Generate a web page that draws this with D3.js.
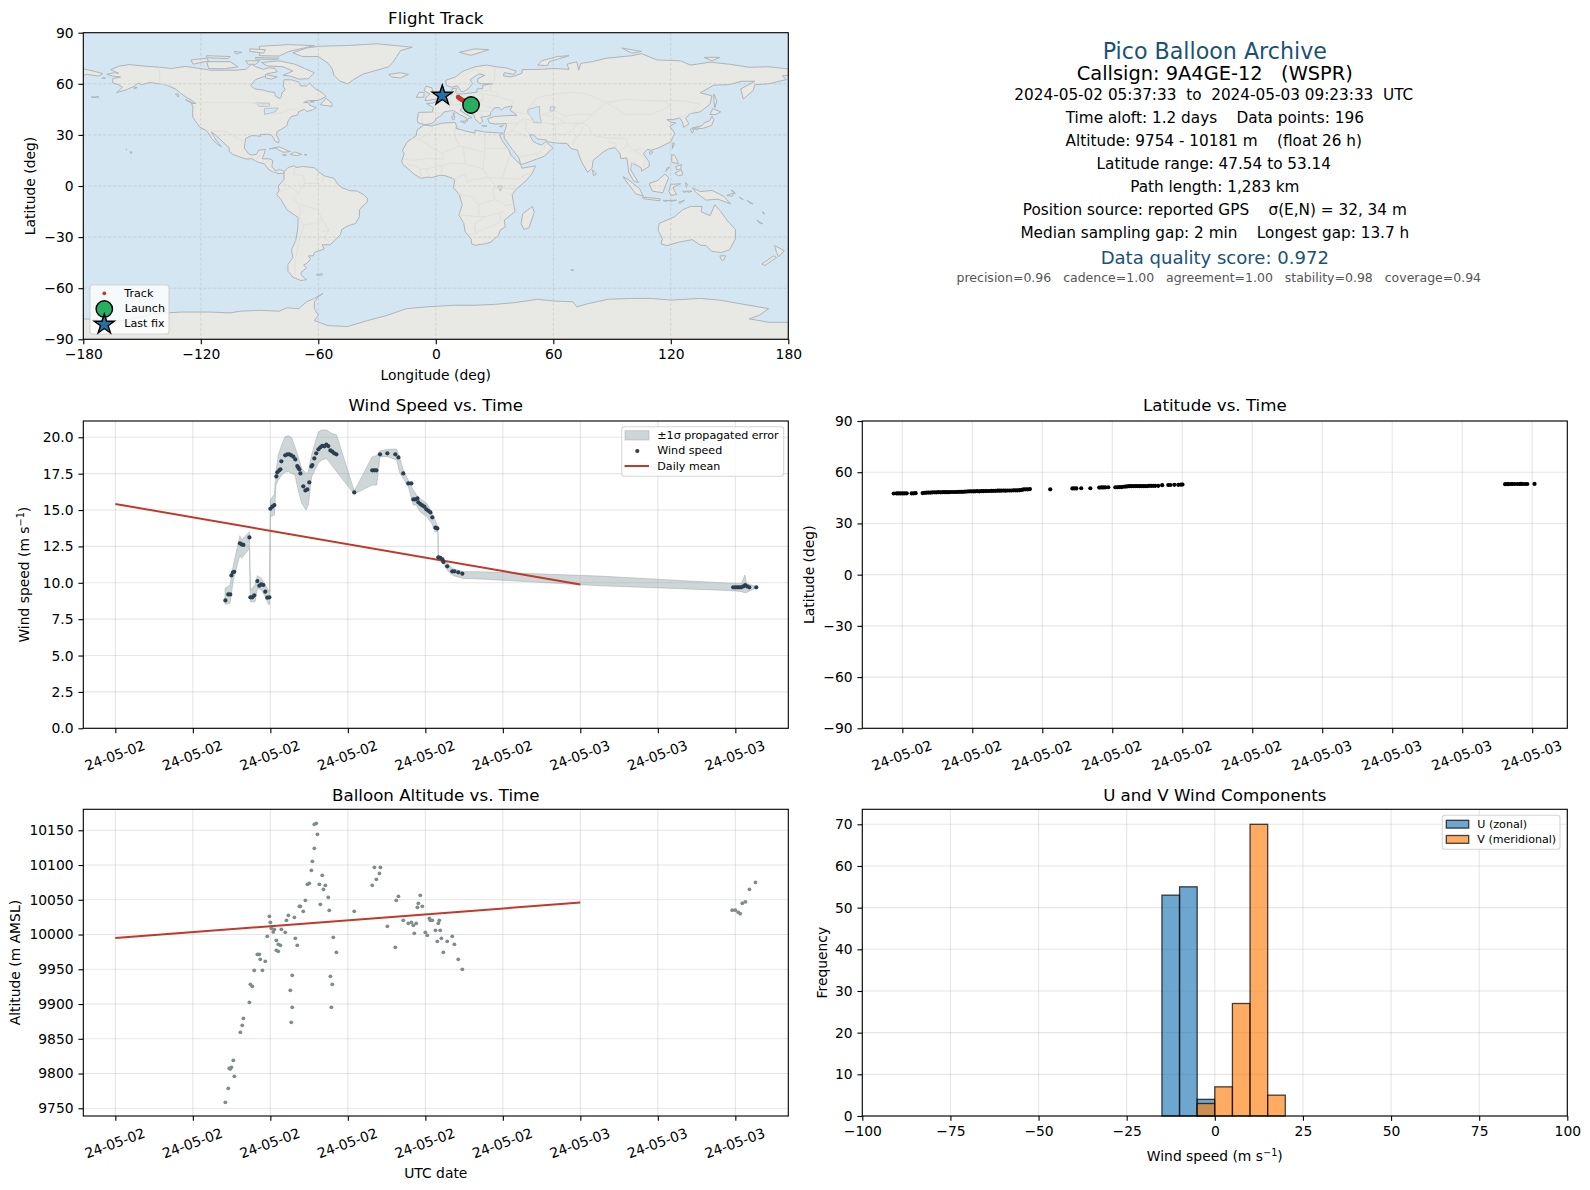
<!DOCTYPE html>
<html><head><meta charset="utf-8">
<script src="https://cdn.jsdelivr.net/npm/d3@7"></script>
<style>
html,body{margin:0;padding:0;background:#fff}
svg{display:block}
text{font-family:"DejaVu Sans",sans-serif;fill:#000;white-space:pre}
</style></head><body><div id="chart"></div>
<script>
// ---------- DATA ----------
const lonTicks=[-180,-120,-60,0,60,120,180];
const latTicks=[-90,-60,-30,0,30,60,90];
const landPolys=[
// North America
[[-168,65.6],[-164,66.5],[-162,66.2],[-166,68.3],[-162,70.3],[-156.5,71.3],[-150,70.5],[-141,69.7],[-135,69],[-128,70.2],[-124,69.6],[-115,68],[-108,68],[-102,68],[-97,68.5],[-94,71.5],[-92,70],[-88,68.5],[-85,69.5],[-82,69],[-81,67],[-86,66],[-87,64.5],[-92,62.5],[-94.5,59],[-92.5,57],[-88,56.3],[-85,55.3],[-82.3,55],[-82,52.9],[-79.5,51.3],[-79,52],[-78.5,54.8],[-76.8,56.5],[-78,58.7],[-77.5,62.4],[-73.5,62.3],[-70,61],[-69,58.8],[-66,58.7],[-64.5,60.3],[-61.5,57],[-58,54.8],[-56,52.5],[-60,50.2],[-65,50.2],[-67.5,49],[-65,49],[-64.5,47.5],[-61,46],[-63,44.6],[-66,43.7],[-67,45],[-70,43.7],[-70.5,41.8],[-74,40.6],[-75.5,38],[-76,35.5],[-78,33.9],[-81,32],[-81.4,30],[-80,27],[-80.3,25.3],[-81.8,26],[-82.8,28],[-84,30],[-86,30.4],[-89.5,30.2],[-89.5,29.2],[-91.5,29.5],[-94,29.6],[-97,28],[-97.5,25],[-97.8,22.3],[-95.5,18.8],[-94,18.2],[-91.5,18.6],[-90.5,21],[-87,21.5],[-87.8,18.3],[-88.7,16],[-85,15.9],[-83.2,15],[-83.7,11.5],[-82,9],[-79.5,9.6],[-77.3,8.5],[-78,7.3],[-80,7.3],[-81.7,7.8],[-83.5,8.4],[-85.7,10],[-87.5,13],[-91,14],[-94,16.1],[-96.5,15.7],[-100,17],[-103.5,18.5],[-105.5,20.3],[-105.5,22.5],[-108,25],[-110,27.3],[-112.5,30],[-114.7,31.7],[-113,28.5],[-112,26.5],[-110,24],[-109.5,23],[-112,25],[-114.5,28],[-115.5,30],[-117.2,32.6],[-120.5,34.5],[-122.5,37.7],[-124,40.3],[-124.2,43],[-124,46.3],[-124.7,48.4],[-122.5,48.5],[-125,50.5],[-128,52.5],[-130.3,54.5],[-133,57],[-137,59],[-140,59.8],[-146,60.8],[-150,59.5],[-152,60.5],[-154,58.5],[-158,56.5],[-163,54.8],[-160,58],[-162,59.5],[-165,60.5],[-165,63],[-161,64],[-165,64.5]],
// Greenland
[[-73,78.2],[-68,76],[-60,76],[-55,72],[-53,69],[-52,65],[-49,61.5],[-45,60],[-42,62.5],[-37,65.8],[-30,68],[-24,70],[-22,72.5],[-20,76],[-18,79.5],[-12,81.5],[-30,83.5],[-45,82.5],[-60,82],[-66,81]],
// Canadian Arctic
[[-80,73.5],[-72,71.5],[-67,69],[-62,66.5],[-65,63],[-70,62.7],[-74,64.5],[-78,65],[-73,67.5],[-78,70],[-86,70.5],[-89,72.5]],
[[-117,73],[-105,73],[-101,70],[-108,68.8],[-116,69]],
[[-125,74],[-117,75],[-116,73.5],[-124,71.5]],
[[-90,76.5],[-80,76.3],[-75,79],[-62,82.4],[-75,83],[-90,82]],
[[-92,75.5],[-80,75],[-82,74.3],[-92,74.5]],
[[-117,76.5],[-105,76],[-106,74.8],[-117,75.3]],
[[-97,73.5],[-90,73.5],[-92,71.5],[-96,71.5]],
[[-95,80.5],[-87,80],[-88,78],[-95,79]],
[[-103,79],[-99,78.5],[-102,77.5]],
[[-87,65.5],[-81,64],[-84,62.7],[-87,63.5]],
[[-59,47.7],[-53,46.7],[-53,48.5],[-56,51.5]],
[[-128,50.8],[-123.5,48.4],[-125,48.7]],
[[-133,54],[-131.5,54],[-131.5,52.2]],
[[-64,49.8],[-62,49.4],[-64,49.2]],
// Caribbean and Pacific islands
[[-85,21.8],[-80,23],[-75,20.5],[-74.2,20.2],[-78,19.8],[-82,22.3]],
[[-74.4,18.5],[-72,20],[-68.5,18.6],[-71,17.8]],
[[-78.3,18.4],[-76.3,18.2],[-77,17.8]],
[[-67.2,18.5],[-65.7,18.4],[-66.5,18]],
[[-156,20.2],[-155,19.7],[-155.8,19]],
[[-158.2,21.6],[-157.7,21.5],[-158,21.3]],
[[-176,52.2],[-172,52.4],[-174,51.9]],
[[-154,57.8],[-152.5,57.8],[-154,57]],
[[-170,63.6],[-168.5,63.3],[-170.5,63.2]],
// South America
[[-77.3,8.5],[-75.5,10.8],[-72,12],[-71.5,10.8],[-68,11.5],[-62,10.7],[-60,8.5],[-57,6],[-52,4.5],[-50,1],[-48,-1],[-44,-2.7],[-40,-3],[-37,-5],[-35,-7],[-35,-9.5],[-37.5,-12],[-39,-14],[-39,-18],[-41,-22],[-44.5,-23.2],[-48,-25.5],[-48.7,-28.5],[-52,-32.5],[-54,-34.5],[-58,-34.5],[-57,-37],[-62,-39],[-62.5,-41],[-65,-41],[-64,-43],[-65.5,-45],[-67.5,-46.5],[-66,-48],[-69,-51],[-68.5,-52.5],[-66,-55],[-69,-55.5],[-73,-53.5],[-75.5,-50],[-75.5,-46],[-73,-42],[-73.7,-37.5],[-71.5,-32],[-70.5,-25],[-70.3,-18.5],[-76,-14],[-79,-8],[-81.3,-5],[-80,-2.5],[-80.5,0],[-78.5,2.5],[-77.5,4],[-77.5,7]],
[[-61,-52],[-58,-51.5],[-58,-52.3],[-60,-52.5]],
// Africa
[[-6,35.8],[-2,35.2],[3,36.9],[10,37.3],[11,33.5],[10,34],[15,32.3],[20,31],[20,32.8],[25,31.7],[32,31.2],[34.3,31],[32.5,29.9],[34,26.5],[35.5,24],[37.3,21],[38.5,18],[41,15],[43.3,12.5],[44,10.5],[51,11.8],[49,7],[46,3],[41,-2],[39,-5],[39.5,-9],[40.5,-15],[35,-20],[35.5,-24],[32.8,-26],[32,-29],[28,-33],[25,-34],[20,-34.8],[18.3,-34],[18,-31],[15,-27],[14.3,-22],[11.8,-17],[13.5,-11],[12,-5],[9,-1],[9.7,3.5],[8.5,4.5],[5,6],[2,6.3],[-2,5],[-4.5,5.2],[-7.5,4.5],[-11,6.8],[-13.5,9.5],[-16.8,12.5],[-17.4,14.7],[-16.2,19],[-17,21],[-14.5,26],[-10,29.5],[-9.5,33]],
[[49.3,-12],[50.3,-15.5],[47.5,-24.7],[45,-25.5],[43.5,-22],[44.5,-16.2]],
// Eurasia
[[-9,37],[-9.5,38.7],[-8.8,43.2],[-1.8,43.4],[-1.2,46],[-4.7,48.4],[-1.5,48.7],[1.5,50.5],[4,52],[7,53.5],[8.5,54],[8.2,57],[10.5,57.5],[10.2,55],[11,54],[14,54],[18.5,54.7],[21,55],[21,57],[24,57.2],[24,59.2],[29,60],[23,60],[21.3,61],[21.5,63],[25,65],[22,65.8],[17.5,62.5],[18.8,60],[16.5,57],[14.3,55.5],[13,55.4],[11,58.8],[8,58],[5.5,59],[5,62],[10,64],[14,67.5],[20,70],[26,71],[31,70],[36,69.3],[41,67.5],[40,65.5],[35,66.5],[34.5,64.7],[38,64],[40.5,64.7],[44,66.2],[44,68.3],[54,68.5],[60,69],[68,68.5],[67,71.5],[72,73],[73,68],[74,72],[80,73],[87,75],[100,76.5],[105,77.7],[113,74],[125,73.5],[130,71],[140,72.7],[150,71.5],[160,69.7],[170,70],[178,69],[180,68.7],[180,65],[177,64.7],[179,62.5],[170,60],[163,59.5],[162,56],[157,51],[155.7,57],[163,61.5],[156,61.5],[150,59.5],[142,59.2],[135,54.7],[141,53],[140,48],[135,43.5],[130,42.5],[127.5,39.8],[129.3,36.5],[126.5,34.5],[126,37.5],[124.5,40],[121.5,39],[118,39],[120,37.5],[122.5,37],[119.5,35],[122,31],[120,26],[114,22.5],[110,21],[108,21.5],[106,19],[109,14],[109,11.5],[105,8.7],[105,10.5],[102,12.5],[100,13.5],[99.5,9.5],[103.5,2],[101,3],[98.5,8],[98,13],[97.5,16.5],[94.5,16],[94,19],[91.5,22.5],[88,21.7],[85,19.5],[80.3,15],[79.8,10.5],[77.5,8],[74.5,14],[72.8,19],[72.5,21],[69,22],[67,25],[61.5,25.2],[57,26],[56.5,27],[52,27.5],[50,30],[48,30],[48.5,28.5],[50,26],[51.5,25],[54,24],[56.2,26],[58.7,23.5],[59.8,22.5],[55.5,17.5],[52,16],[45,13],[43.3,12.7],[42.5,16.5],[39,21.5],[35,28],[34.8,31],[36,35],[36,36.7],[30.5,36.4],[27.3,37],[26.5,39.5],[30,40.8],[36,41.3],[41.5,41.5],[38,44.5],[39,47],[35,46],[33.5,44.5],[32.5,46],[30,46],[28,43],[28,41.5],[26,40.8],[23,40.5],[24,38],[22.5,36.5],[20,39.5],[19.5,41.5],[15,44.5],[13.5,45.7],[12.3,44.5],[16,41.7],[18.5,40.2],[16.5,39.5],[16,38],[15.7,40],[12,42],[8.8,44.4],[4,43.4],[3,41.5],[0,39.5],[-0.5,38],[-2,36.7],[-5.5,36]],
[[-180,68.8],[-175,67.5],[-170,66],[-172,64.5],[-178,65.5],[-180,65]],
// European and Asian islands
[[-5.5,50],[1.5,51.3],[1.7,52.8],[-1.5,55],[-2,57.6],[-5,58.6],[-6,56],[-3,54],[-5,52]],
[[-10,52],[-6,52.2],[-6,55],[-8.5,55]],
[[-24,65.5],[-18,66.5],[-14,65.5],[-18,63.5],[-22.5,64]],
[[12,78.5],[20,80.5],[27,80],[18,76.7]],
[[52,71],[57,70.7],[58,73],[68,76.5],[62,76],[54,73.5]],
[[95,81],[105,79],[100,78]],
[[137,75.5],[145,75.5],[141,73.5]],
[[12.5,38],[15.5,38.2],[15,36.8]],
[[8.2,41],[9.7,41],[9.5,39.2],[8.5,39]],
[[8.7,43],[9.5,42.8],[9.2,41.5]],
[[23.5,35.5],[26.2,35.2],[24.8,35]],
[[32.5,35],[34.5,35.5],[33.5,34.7]],
[[80,9.5],[82,7],[80.5,6]],
[[130.9,34],[136,35.5],[137,37],[140,38.5],[141,41],[142,39],[140.8,35.5],[136,33.7],[132,34]],
[[130,33.5],[132,33.5],[131,31]],
[[132.5,34],[134.5,34],[133,32.8]],
[[140,42],[141.5,45.5],[145.5,43.5],[143,42]],
[[142,54],[143.5,50],[142.5,46],[142,50]],
[[121,25.3],[122,25],[120.8,22]],
[[109,20],[111,20],[109.5,18.3]],
[[120.5,18.5],[122,18],[124,13],[120.5,14]],
[[122,7.5],[125.5,9.5],[126,6.5],[124,6]],
[[118,10.5],[119.5,11.3],[117.5,8.5]],
[[122.5,11.5],[125.5,12.5],[125,10],[123,9.5]],
[[109,1.5],[113,3],[117,7],[119,5],[117.5,1],[116,-4],[110.5,-3]],
[[95.5,5.5],[98,4],[104,-1.5],[106,-6],[102,-4.5]],
[[105.5,-6.5],[114.5,-7.5],[114.5,-8.7],[106,-7.5]],
[[120,1],[125,1.3],[121,-1],[123,-5],[120,-5.5],[119,-3]],
[[127.5,2],[128.5,1],[128,-0.8]],
[[126,-3],[128,-3.2],[127,-3.8]],
[[128,-3],[130.8,-3],[129,-3.7]],
[[116,-8.4],[119,-8.5],[117,-9]],
[[119,-8.5],[123,-8.3],[120,-9]],
[[124,-9.5],[127,-8.4],[124.5,-10.3]],
[[131,-1],[135,-3.3],[141,-2.6],[147,-6],[150.5,-10.5],[144,-7.7],[138,-8.3],[133,-4]],
[[148.5,-5.5],[152,-4.2],[151.5,-6]],
[[152,-3],[153,-4.6],[150.8,-2.5]],
[[155,-6.5],[157,-8],[155.5,-7.2]],
[[159,-8.5],[162,-10.5],[160,-9.8]],
// Oceania
[[114,-22],[122,-18],[126,-14],[130,-12],[136,-12],[135.5,-15],[140,-17.5],[142.5,-11],[145.5,-15],[149,-20.5],[153,-25.5],[153,-31],[150,-37.5],[146,-39],[141,-38.5],[138,-35],[135,-34.7],[131,-31.5],[124,-33],[118,-35],[115,-34],[115.7,-31],[113.5,-26]],
[[145,-41],[148,-41],[147,-43.5],[146,-43.5]],
[[173,-35],[178,-38],[175,-41.5],[174,-39]],
[[172.5,-41],[174,-42],[168,-46.7],[166.5,-45.8]],
[[164,-20],[167,-22.3],[165,-21.5]],
[[167,-15],[168,-16.5],[167,-16]],
[[69,-49],[70.5,-49.3],[69.5,-49.8]],
// Antarctica
[[-180,-78],[-160,-79],[-150,-77],[-145,-75],[-130,-74],[-115,-74],[-105,-74.5],[-100,-73.5],[-90,-73],[-80,-73.5],[-76,-71.5],[-70,-72],[-66,-68],[-62,-66],[-57.5,-63],[-60,-65],[-62,-68],[-62,-72],[-60,-76],[-62,-79],[-55,-82],[-45,-82.5],[-35,-79],[-25,-76],[-15,-72],[-5,-71],[10,-70],[20,-70],[30,-69.5],[40,-68.5],[52,-66.5],[60,-67.5],[70,-68],[72,-71],[78,-69],[88,-66.5],[100,-66],[110,-66],[120,-67],[135,-66],[145,-67],[155,-69],[165,-71],[170,-72],[165,-76],[160,-78],[170,-80],[180,-80],[180,-90],[-180,-90]]
];
const lakes=[
[[47,45],[53,46.8],[53,42],[54,37],[50,37.3],[49,40],[47,43]],
[[58.5,46.5],[61,46.5],[60,44],[58.5,44]],
[[31.5,0],[34,0],[33,-3]],
[[-92,48.8],[-85,48.6],[-85,46.8],[-90,46.7]],
[[-87.5,45.5],[-80.5,45.8],[-82,43.5],[-87.5,42]]
];
const borders=[
[[-123,49],[-95,49],[-89,48],[-83,46],[-83,42],[-79,43],[-75,45],[-71,45],[-69,47],[-67,45]],
[[-141,69.7],[-141,60],[-135,59]],
[[-117,32.5],[-106.5,31.7],[-103,29],[-97.5,26]],
[[-92,14.5],[-91,17.5],[-89,17.8]],[[-88.5,15.8],[-87.5,13.5]],[[-85,15],[-87,13]],[[-83.7,11],[-85.7,11]],[[-83,9.5],[-82.8,8.3]],
[[-72,12],[-72.5,7],[-67.5,6],[-67,1.5],[-70,-4]],[[-70,-4],[-73,-7],[-70,-11],[-69,-15],[-70,-18]],
[[-60,8.5],[-61,5],[-60,1.5],[-67,1.5]],[[-78.5,1.5],[-75,0],[-70,-4]],[[-80,-3.5],[-75,-1]],[[-57,6],[-58,2]],[[-54,5],[-54,2.3]],
[[-70,-18],[-67.5,-23],[-70,-33],[-72,-45],[-72,-52]],[[-69,-11],[-60,-14],[-58,-20],[-54.5,-25.5],[-57,-30],[-53.5,-34]],[[-67.5,-23],[-62.5,-22],[-58,-20]],[[-58,-27],[-54.5,-25.5]],
[[-8.5,27.7],[-2,32],[-1.5,35]],[[-8.5,27.7],[-13,27.7]],[[-8.5,27.7],[3,19],[12,23.5],[9.5,30],[10,34]],[[12,23.5],[25,20],[25,31.7]],[[25,22],[37,22]],[[25,20],[24,10],[27,5],[34,4.5],[42,4],[48,8]],[[34,4.5],[36,12],[38,18]],[[24,10],[15,13],[14,23]],[[15,13],[8,13.5],[3,12],[3,6.3]],[[3,12],[-5,10],[-8,10],[-11,12],[-16.8,12.5]],[[-5,10],[-3,5]],[[-8,10],[-7.5,4.5]],[[3,19],[4,16],[-5,16],[-12,15],[-16.5,16]],
[[9.5,4],[15,7],[16,2],[18,3.5],[27,5]],[[12,-5],[18,-6],[22,-11],[30,-8],[29,-3],[30,1],[27,5]],[[12,-17],[22,-18],[25,-18],[35,-15]],[[22,-11],[22,-18]],[[40.5,-10.5],[35,-11.5],[33,-9],[30,-8]],[[34,-1],[41,-2]],[[30,-1],[34,-1]],[[20,-28],[20,-22],[25,-18]],[[17,-28.5],[20,-28],[25,-25],[32,-22]],[[32,-22],[33,-19],[33,-16]],
[[-1.8,43.4],[3,42.5]],[[-7,37],[-7,42]],[[2.5,51],[8,49],[7,47.5],[7.5,44]],[[7,53.5],[6,51],[8,49]],[[14,54],[15,51],[24,50.5],[24,54],[21,55]],[[15,51],[12,50],[13,47.5],[7,47.5]],[[24,50.5],[22,48.5],[17,48],[13,47.5]],[[22,48.5],[29,45.5]],[[22,48.5],[22,44],[23,41.5]],[[13.5,45.7],[19,45],[22,44],[28.5,43.7]],[[24,54],[32,52.5],[40,49.5],[38,47]],[[28,56],[28,60]],[[21,56.3],[28,56]],[[32,52.5],[31,55],[28,56]],
[[30,70],[30,62],[28,60]],[[20,69],[24,66]],[[13,64],[20,69]],
[[40,43.5],[48,42],[49,38.5]],[[36,36.7],[42,37],[44.5,39.5],[49,38.5]],[[42,37],[39,32.5],[34.8,29.5]],[[39,32.5],[47,29]],[[46,39],[46,33],[48,30]],[[52,16],[52,19],[55,22],[56,24.5]],[[43,17],[52,19]],
[[49,38.5],[54,37.5],[61,36],[61,31],[61.5,25.2]],[[61,36],[66,37],[71,37],[75,37]],[[61,31],[66,30],[70,33],[71,36]],[[71,36],[75,37],[78,35],[80,30],[88,28],[92,28],[97,28]],[[75,37],[80,42],[87,49],[97,42],[110,42],[120,47],[116,50],[127,50],[135,48],[131,43]],[[87,49],[98,51],[107,50],[116,50]],[[47,45],[52,52],[61,54],[70,55],[77,54],[83,51],[87,49]],[[54,42],[61,44],[66,41],[71,42],[80,42]],[[66,37],[62,40],[54,42]],[[70,24],[71,28],[74,31],[75,35]],[[88,26],[92,25],[92,21]],[[97,28],[98,24],[101,21],[105,22],[107,21.5]],[[98,24],[94,21]],[[101,21],[105,18],[107,15],[106,11]],[[99,10],[100,13],[102.5,14.5]],[[124.5,40],[128,42],[131,43]]
];
const trackLon=[18.0,17.4,16.8,16.2,15.6,15.0,14.4,13.8,13.2,12.6,12.0,11.4];
const trackLat=[47.54,47.9,48.3,48.7,49.1,49.5,49.9,50.3,50.7,51.1,51.6,52.2];
const launchPoint=[18.0,47.54];
const lastFix=[3.3,53.14];

const tickStartIso="2024-05-02T00:00:00Z";
const windHours=[5.68,5.83,5.93,5.99,6.07,6.14,6.43,6.52,6.61,6.92,6.97,7.07,7.17,7.33,7.43,7.53,7.64,7.74,7.84,7.95,8.00,8.10,8.21,8.31,8.36,8.46,8.52,8.57,8.77,8.88,8.98,9.08,9.19,9.29,9.39,9.44,9.50,9.55,9.70,9.81,9.91,10.01,10.12,10.17,10.27,10.37,10.48,10.58,10.68,10.79,10.89,10.99,11.10,11.20,11.30,11.41,12.33,13.26,13.37,13.47,13.66,14.04,14.45,14.61,14.86,15.12,15.28,15.38,15.48,15.59,15.64,15.74,15.84,15.95,16.05,16.15,16.26,16.36,16.52,16.62,16.67,16.77,16.88,16.93,17.13,17.39,17.50,17.70,17.91,31.89,32.00,32.10,32.20,32.30,32.41,32.51,32.61,32.72,33.08];
const windSpeed=[8.79,9.20,9.20,10.51,10.72,10.76,12.71,12.64,12.60,13.12,9.00,9.00,9.14,10.12,9.80,9.89,9.85,9.39,8.98,9.00,15.09,15.23,15.34,17.31,17.59,17.73,17.80,18.35,18.76,18.83,18.83,18.76,18.67,18.48,18.02,17.91,17.80,17.52,16.63,16.35,16.42,16.90,18.00,18.09,18.55,18.90,19.17,19.31,19.42,19.38,19.49,19.40,19.10,19.01,18.90,18.83,16.21,17.73,17.73,17.73,18.83,18.90,18.83,18.62,17.52,16.83,16.83,15.73,15.73,15.80,15.53,15.41,15.32,15.23,15.05,14.95,14.84,14.50,13.79,13.74,11.75,11.72,11.61,11.43,11.13,10.79,10.79,10.72,10.63,9.69,9.69,9.69,9.69,9.69,9.75,9.85,9.75,9.69,9.69];
const bandHours=[5.66,5.92,6.09,6.43,6.52,6.92,6.97,7.21,7.33,7.55,7.74,7.90,7.96,8.00,8.21,8.29,8.41,8.58,8.76,8.93,9.10,9.27,9.44,9.62,9.84,9.96,10.13,10.30,10.48,10.65,10.91,11.16,11.42,12.33,13.26,13.49,13.66,14.04,14.52,14.69,14.86,15.12,15.38,15.55,15.72,16.07,16.33,16.50,16.65,16.67,16.93,17.19,17.45,17.96,18.82,25.01,31.89,32.32,32.49,32.58,33.08];
const bandHigh=[9.62,9.85,11.22,13.24,12.94,13.51,9.50,9.85,10.49,10.30,9.85,9.50,9.39,15.69,16.08,17.64,18.78,19.47,20.04,20.11,19.97,19.35,18.67,17.86,17.52,17.64,18.78,19.58,20.38,20.50,20.50,20.27,20.16,16.31,18.67,18.74,19.06,19.17,19.19,18.55,17.75,17.06,16.38,16.03,15.80,15.46,14.89,14.31,13.86,11.91,11.68,11.27,10.95,10.76,10.76,10.46,9.96,9.96,10.53,9.96,9.73];
const bandLow=[8.52,8.59,10.19,11.91,11.68,12.37,8.70,8.70,9.62,9.50,9.04,8.52,8.52,14.54,14.66,16.72,17.06,17.41,17.59,17.64,17.52,17.41,16.38,15.46,15.00,15.34,17.29,17.75,18.21,18.44,18.55,18.09,17.64,16.10,16.72,16.72,18.67,18.67,18.44,17.52,17.18,16.60,15.34,15.34,14.89,14.54,14.08,13.51,13.51,11.56,11.34,10.76,10.49,10.30,10.26,9.80,9.46,9.39,9.32,9.34,9.64];
const meanHours=[0,24];
const meanWind=[15.42,9.88];
const meanAlt=[9995,10046];

const latHours=[5.63,5.76,5.84,5.93,6.02,6.10,6.19,6.40,6.49,6.57,6.87,6.96,7.04,7.13,7.22,7.30,7.39,7.48,7.56,7.65,7.74,7.82,7.91,8.00,8.08,8.17,8.26,8.34,8.43,8.52,8.60,8.69,8.78,8.86,8.95,9.04,9.12,9.21,9.30,9.38,9.47,9.56,9.64,9.73,9.82,9.90,9.99,10.08,10.16,10.25,10.34,10.42,10.51,10.60,10.68,10.77,10.86,10.94,11.03,11.12,11.20,11.29,11.38,11.47,12.34,13.29,13.37,13.46,13.67,14.06,14.44,14.53,14.61,14.70,14.83,15.13,15.21,15.30,15.39,15.47,15.56,15.64,15.73,15.81,15.90,15.99,16.07,16.16,16.24,16.33,16.41,16.50,16.58,16.67,16.76,16.84,16.97,17.14,17.40,17.49,17.66,17.83,17.95,18.01,31.84,31.93,32.00,32.10,32.15,32.25,32.36,32.45,32.52,32.60,32.70,32.79,33.10];
const latValues=[47.54,47.6,47.6,47.6,47.6,47.6,47.65,47.6,47.65,47.7,47.8,47.9,48.0,48.1,48.1,48.2,48.2,48.2,48.3,48.2,48.3,48.3,48.3,48.3,48.4,48.4,48.4,48.4,48.5,48.5,48.5,48.6,48.7,48.8,48.8,48.8,48.8,48.9,48.8,48.9,48.9,49.0,49.0,49.0,49.1,49.1,49.1,49.2,49.2,49.2,49.3,49.2,49.3,49.3,49.3,49.4,49.4,49.4,49.5,49.6,49.9,50.0,50.0,50.1,50.0,50.5,50.5,50.5,50.6,50.6,51.0,51.1,51.1,51.1,51.2,51.2,51.2,51.3,51.3,51.5,51.6,51.7,51.8,51.8,51.9,51.9,51.9,51.9,51.9,51.9,51.9,51.9,52.0,52.0,52.0,52.0,52.0,52.4,52.5,52.5,52.6,52.6,52.7,52.8,53.0,53.05,53.05,53.1,53.1,53.1,53.1,53.1,53.14,53.1,53.1,53.1,53.14];

const altHours=[5.68,5.83,6.14,5.88,5.93,5.99,6.09,6.45,6.55,6.61,6.92,6.97,7.07,7.17,7.59,7.33,7.43,7.48,7.74,7.84,7.95,8.00,8.05,8.15,8.21,8.31,8.31,8.41,8.41,8.52,8.57,8.77,8.83,8.93,9.24,9.29,9.39,9.13,9.03,9.13,9.08,9.50,9.55,9.70,9.81,9.91,10.01,10.12,10.17,10.27,10.43,10.27,10.37,10.53,10.68,10.84,10.74,10.99,10.58,11.04,11.25,11.41,11.10,11.20,11.15,12.33,13.26,13.47,13.63,13.37,13.68,14.04,14.45,14.50,14.61,14.86,15.12,15.28,15.38,15.53,15.43,15.59,15.64,15.74,15.84,16.00,16.10,16.21,16.26,16.36,16.52,16.62,16.67,16.72,16.77,16.83,16.93,17.13,17.39,17.50,17.70,17.91,31.84,32.00,32.15,32.25,32.36,32.52,32.73,33.04];
const altValues=[9758.6,9778.7,9796,9807.5,9806.6,9809,9819,9859.3,9869.4,9879.5,9902.5,9928.4,9925.5,9948.5,9948.5,9971.5,9971.5,9964.4,9961.5,9997.4,10026.2,10017.6,10009,10003.7,10007.5,9991.7,9977.3,9975.9,9985.9,9984.5,10007.5,10003.2,10020.5,10027.7,10024.8,9994.6,9984.5,9941.3,9919.7,9895.3,9873.7,10040.6,10040.6,10033.4,10049.2,10072.3,10073.7,10092.4,10105.4,10124,10144.2,10158.6,10160,10072.3,10085.2,10070.8,10065.1,10053.6,10043.5,10034.8,9996,9974.4,9939.9,9928.4,9895.3,10033.4,10070.8,10079.5,10088,10096.7,10096.7,10011.8,9981.6,10049.2,10055,10020.5,10016.1,10017.6,10013.3,10016.1,10001.8,10039.2,10044.9,10056.4,10040.6,10003.2,9998.9,10023.3,10020.5,10020.5,10006.1,9990.2,10016.1,10020.5,10006.1,9994.6,9974.4,9990.2,9997.4,9985.9,9964.4,9950,10035,10035,10032,10030,10045,10047,10065,10075];

const histBinStartU=[-15,-10,-5];
const histCountU=[53,55,4];
const histBinStartV=[-5,0,5,10,15];
const histCountV=[3,7,27,70,5];
const histBinWidth=5;

const altTicks=[9750,9800,9850,9900,9950,10000,10050,10100,10150];
const windTicks=[0,2.5,5,7.5,10,12.5,15,17.5,20];
const histYTicks=[0,10,20,30,40,50,60,70];
const histXTicks=[-100,-75,-50,-25,0,25,50,75,100];

const infoLines=[
 {t:"Pico Balloon Archive",y:50.8,s:22.2,c:"#1a5276",dx:0},
 {t:"Callsign: 9A4GE-12   (WSPR)",y:73.2,s:19.4,c:"#000",dx:0},
 {t:"2024-05-02 05:37:33  to  2024-05-03 09:23:33  UTC",y:94.5,s:15.28,c:"#000",dx:-1},
 {t:"Time aloft: 1.2 days    Data points: 196",y:117.5,s:15.28,c:"#000",dx:0},
 {t:"Altitude: 9754 - 10181 m    (float 26 h)",y:140.5,s:15.28,c:"#000",dx:-1},
 {t:"Latitude range: 47.54 to 53.14",y:163.5,s:15.28,c:"#000",dx:-1},
 {t:"Path length: 1,283 km",y:186.5,s:15.28,c:"#000",dx:0},
 {t:"Position source: reported GPS    σ(E,N) = 32, 34 m",y:209.5,s:15.28,c:"#000",dx:0},
 {t:"Median sampling gap: 2 min    Longest gap: 13.7 h",y:232.5,s:15.28,c:"#000",dx:0},
 {t:"Data quality score: 0.972",y:257,s:18.06,c:"#1a5276",dx:0},
 {t:"precision=0.96   cadence=1.00   agreement=1.00   stability=0.98   coverage=0.94",y:277.5,s:12.5,c:"#555",dx:4}
];

// ---------- LAYOUT ----------
const W=1590,H=1190;
const L1=83.3,R1=788.3,L2=862.3,R2=1567.3;
const rows=[[32.7,339.3],[421,728.3],[809.3,1116]];
const FS=13.89, TITLE=16.67, LEG=11.1;
const OCEAN="#d4e6f1",LAND="#e8e8e4",RED="#c0392b",DARK="#2c3e50",GREY="#7f8c8d",BAND="#95a5a6";

const svg=d3.select("#chart").append("svg").attr("width",W).attr("height",H).attr("viewBox",`0 0 ${W} ${H}`);
const defs=svg.append("defs");
defs.append("filter").attr("id","soft").attr("x","-1%").attr("y","-1%").attr("width","102%").attr("height","102%")
   .append("feGaussianBlur").attr("stdDeviation",0.4);
const toDate=h=>new Date(Date.parse(tickStartIso)+h*3600e3);
const fmtDate=d3.utcFormat("%y-%m-%d");
const fmtNum=d3.format("d");
const minus=s=>String(s).replace("-","−");

function panel(L,R,T,B,id){
  const g=svg.append("g");
  defs.append("clipPath").attr("id",id).append("rect").attr("x",L).attr("y",T).attr("width",R-L).attr("height",B-T);
  return g;
}
function grid(g,xs,ys,x,y,T,B,L,R,dash){
  const gg=g.append("g").attr("stroke","#b0b0b0").attr("stroke-opacity",dash?0.5:0.32).attr("stroke-width",dash?0.8:1.1).attr("stroke-dasharray",dash?"3,2":null);
  gg.selectAll("line.v").data(xs).join("line").attr("x1",d=>x(d)).attr("x2",d=>x(d)).attr("y1",T).attr("y2",B);
  gg.selectAll("line.h").data(ys).join("line").attr("y1",d=>y(d)).attr("y2",d=>y(d)).attr("x1",L).attr("x2",R);
}
function axes(g,x,y,xs,ys,T,B,L,R,xfmt,yfmt,rot){
  const ax=g.append("g").attr("transform",`translate(0,${B})`)
    .call(d3.axisBottom(x).tickValues(xs).tickFormat(xfmt).tickSizeOuter(0).tickSize(4.86).tickPadding(4.86));
  const ay=g.append("g").attr("transform",`translate(${L},0)`)
    .call(d3.axisLeft(y).tickValues(ys).tickFormat(yfmt).tickSizeOuter(0).tickSize(4.86).tickPadding(4.86));
  for(const a of [ax,ay]){
    a.attr("font-family",null).attr("font-size",null);
    a.select(".domain").remove();
    a.selectAll("line").attr("stroke","#000").attr("stroke-width",1.11);
    a.selectAll("text").style("font-size",FS+"px").attr("fill","#000");
  }
  if(rot){
    ax.selectAll("text").attr("y",0).attr("dy","0.36em").attr("text-anchor","middle")
      .attr("transform","translate(-1,27) rotate(-20)");
  }
  g.append("rect").attr("x",L).attr("y",T).attr("width",R-L).attr("height",B-T)
    .attr("fill","none").attr("stroke","#000").attr("stroke-width",1.11);
}
function title(t,L,R,T,dy){
  svg.append("text").attr("x",(L+R)/2).attr("y",T-8.3+(dy||0)).attr("text-anchor","middle").style("font-size",TITLE+"px").text(t);
}
function xlabel(parts,cx,cy){
  const t=svg.append("text").attr("x",cx).attr("y",cy).attr("dy","0.36em").attr("text-anchor","middle").style("font-size",FS+"px");
  label(t,parts);
}
function ylabel(parts,cx,cy){
  const t=svg.append("text").attr("text-anchor","middle").attr("dy","0.36em").style("font-size",FS+"px")
    .attr("transform",`translate(${cx},${cy}) rotate(-90)`);
  label(t,parts);
}
function label(t,parts){
  if(typeof parts==="string"){t.text(parts);return;}
  t.append("tspan").text(parts[0]);
  t.append("tspan").attr("dy",-5).style("font-size","9.7px").text(parts[1]);
  t.append("tspan").attr("dy",5).text(parts[2]);
}
function legendBox(g,x,y,w,h){
  g.append("rect").attr("x",x).attr("y",y).attr("width",w).attr("height",h).attr("rx",2.8)
   .attr("fill","#fff").attr("fill-opacity",0.8).attr("stroke","#ccc").attr("stroke-opacity",0.8).attr("stroke-width",1.1);
}
function legText(g,s,x,y){
  g.append("text").attr("x",x).attr("y",y).attr("dy","0.36em").style("font-size",LEG+"px").attr("fill","#000").text(s);
}

// ---------- MAP ----------
{
  const [T,B]=rows[0],L=L1,R=R1;
  const g=panel(L,R,T,B,"clipMap");
  const x=d3.scaleLinear().domain([-180,180]).range([L,R]);
  const y=d3.scaleLinear().domain([-90,90]).range([B,T]);
  const line=d3.line().x(d=>x(d[0])).y(d=>y(d[1]));
  const closed=d3.line().x(d=>x(d[0])).y(d=>y(d[1])).curve(d3.curveLinearClosed);
  const m=g.append("g").attr("clip-path","url(#clipMap)");
  m.append("rect").attr("x",L).attr("y",T).attr("width",R-L).attr("height",B-T).attr("fill",OCEAN);
  const art=m.append("g").attr("filter","url(#soft)");
  art.selectAll("path.land").data(landPolys).join("path").attr("d",closed)
    .attr("fill",LAND).attr("stroke","#aeb4b8").attr("stroke-width",1).attr("stroke-linejoin","round");
  art.selectAll("path.lake").data(lakes).join("path").attr("d",closed)
    .attr("fill",OCEAN).attr("stroke","#aeb4b8").attr("stroke-width",0.7);
  art.selectAll("path.border").data(borders).join("path").attr("d",line)
    .attr("fill","none").attr("stroke","#dcdeda").attr("stroke-width",0.8);
  grid(m,lonTicks.slice(1,-1),latTicks.slice(1,-1),x,y,T,B,L,R,true);
  m.selectAll("circle.track").data(d3.zip(trackLon,trackLat)).join("circle")
    .attr("cx",d=>x(d[0])).attr("cy",d=>y(d[1])).attr("r",2.4).attr("fill",RED);
  m.append("circle").attr("cx",x(launchPoint[0])).attr("cy",y(launchPoint[1])).attr("r",8.2)
    .attr("fill","#27ae60").attr("stroke","#000").attr("stroke-width",1.4);
  const star=d3.symbol(d3.symbolStar,125)();
  m.append("path").attr("d",star).attr("transform",`translate(${x(lastFix[0])},${y(lastFix[1])})`)
    .attr("fill","#2471a3").attr("stroke","#000").attr("stroke-width",1.4);
  axes(g,x,y,lonTicks,latTicks,T,B,L,R,minus,minus,false);
  const lg=g.append("g");
  legendBox(lg,90,285,79,49);
  lg.append("circle").attr("cx",104.3).attr("cy",293.3).attr("r",1.9).attr("fill",RED);
  legText(lg,"Track",124.3,292.8);
  lg.append("circle").attr("cx",104.3).attr("cy",309).attr("r",8.2).attr("fill","#27ae60").attr("stroke","#000").attr("stroke-width",1.4);
  legText(lg,"Launch",124.8,308.3);
  lg.append("path").attr("d",star).attr("transform","translate(104.3,324.5)").attr("fill","#2471a3").attr("stroke","#000").attr("stroke-width",1.4);
  legText(lg,"Last fix",124.3,323.3);
  title("Flight Track",L,R,T);
  xlabel("Longitude (deg)",(L+R)/2,375);
  ylabel("Latitude (deg)",30.4,(T+B)/2);
}

// ---------- INFO ----------
svg.append("g").selectAll("text").data(infoLines).join("text")
  .attr("x",d=>(L2+R2)/2+d.dx).attr("y",d=>d.y).attr("dy","0.36em").attr("text-anchor","middle")
  .style("font-size",d=>d.s+"px").style("fill",d=>d.c).text(d=>d.t);

// ---------- WIND ----------
const xTime4=d3.scaleUtc().domain([toDate(-1.654),toDate(34.734)]).range([L1,R1]);
const ticks4=d3.range(0,33,4).map(toDate);
{
  const [T,B]=rows[1],L=L1,R=R1;
  const g=panel(L,R,T,B,"clipWind");
  const x=xTime4;
  const y=d3.scaleLinear().domain([0,21.12]).range([B,T]);
  grid(g,ticks4,windTicks,x,y,T,B,L,R,false);
  const m=g.append("g").attr("clip-path","url(#clipWind)");
  const area=d3.area().x(d=>x(toDate(d[0]))).y0(d=>y(d[1])).y1(d=>y(d[2]));
  m.append("path").attr("d",area(d3.zip(bandHours,bandLow,bandHigh)))
    .attr("fill",BAND).attr("fill-opacity",0.45).attr("stroke",BAND).attr("stroke-opacity",0.45).attr("stroke-width",1);
  const ln=d3.line().x(d=>x(toDate(d[0]))).y(d=>y(d[1]));
  m.append("path").attr("d",ln(d3.zip(meanHours,meanWind))).attr("fill","none").attr("stroke",RED).attr("stroke-width",2);
  m.selectAll("circle").data(d3.zip(windHours,windSpeed)).join("circle")
    .attr("cx",d=>x(toDate(d[0]))).attr("cy",d=>y(d[1])).attr("r",2.1).attr("fill",DARK);
  axes(g,x,y,ticks4,windTicks,T,B,L,R,fmtDate,d3.format(".1f"),true);
  const lg=g.append("g");
  legendBox(lg,621.7,426.7,162,49.6);
  lg.append("rect").attr("x",625).attr("y",430.7).attr("width",24).attr("height",9.3).attr("fill",BAND).attr("fill-opacity",0.45).attr("stroke",BAND).attr("stroke-opacity",0.45);
  legText(lg,"±1σ propagated error",657.3,435.3);
  lg.append("circle").attr("cx",637.3).attr("cy",451).attr("r",2.1).attr("fill",DARK);
  legText(lg,"Wind speed",657.3,450.3);
  lg.append("line").attr("x1",624.5).attr("x2",649).attr("y1",466).attr("y2",466).attr("stroke",RED).attr("stroke-width",2);
  legText(lg,"Daily mean",657.3,466);
  title("Wind Speed vs. Time",L,R,T,-1.5);
  ylabel(["Wind speed (m s","−1",")"],24.4,(T+B)/2);
}

// ---------- LATITUDE ----------
{
  const [T,B]=rows[1],L=L2,R=R2;
  const g=panel(L,R,T,B,"clipLat");
  const x=d3.scaleUtc().domain([toDate(4.285),toDate(34.505)]).range([L,R]);
  const y=d3.scaleLinear().domain([-90,90]).range([B,T]);
  const ticks3=d3.range(6,34,3).map(toDate);
  grid(g,ticks3,latTicks,x,y,T,B,L,R,false);
  g.append("g").attr("clip-path","url(#clipLat)").selectAll("circle").data(d3.zip(latHours,latValues)).join("circle")
    .attr("cx",d=>x(toDate(d[0]))).attr("cy",d=>y(d[1])).attr("r",2.1).attr("fill","#000");
  axes(g,x,y,ticks3,latTicks,T,B,L,R,fmtDate,minus,true);
  title("Latitude vs. Time",L,R,T,-1.5);
  ylabel("Latitude (deg)",809.4,(T+B)/2);
}

// ---------- ALTITUDE ----------
{
  const [T,B]=rows[2],L=L1,R=R1;
  const g=panel(L,R,T,B,"clipAlt");
  const x=xTime4;
  const y=d3.scaleLinear().domain([9738.9,10180.2]).range([B,T]);
  grid(g,ticks4,altTicks,x,y,T,B,L,R,false);
  const m=g.append("g").attr("clip-path","url(#clipAlt)");
  m.selectAll("circle").data(d3.zip(altHours,altValues)).join("circle")
    .attr("cx",d=>x(toDate(d[0]))).attr("cy",d=>y(d[1])).attr("r",1.9).attr("fill",GREY);
  const ln=d3.line().x(d=>x(toDate(d[0]))).y(d=>y(d[1]));
  m.append("path").attr("d",ln(d3.zip(meanHours,meanAlt))).attr("fill","none").attr("stroke",RED).attr("stroke-width",2);
  axes(g,x,y,ticks4,altTicks,T,B,L,R,fmtDate,fmtNum,true);
  title("Balloon Altitude vs. Time",L,R,T);
  xlabel("UTC date",(L+R)/2,1172.5);
  ylabel("Altitude (m AMSL)",15.2,(T+B)/2);
}

// ---------- HISTOGRAM ----------
{
  const [T,B]=rows[2],L=L2,R=R2;
  const g=panel(L,R,T,B,"clipHist");
  const x=d3.scaleLinear().domain([-100,100]).range([L,R]);
  const y=d3.scaleLinear().domain([0,73.6]).range([B,T]);
  grid(g,histXTicks,histYTicks,x,y,T,B,L,R,false);
  const bars=(starts,counts,c)=>g.append("g").selectAll("rect").data(d3.zip(starts,counts)).join("rect")
    .attr("x",d=>x(d[0])).attr("width",d=>x(d[0]+histBinWidth)-x(d[0]))
    .attr("y",d=>y(d[1])).attr("height",d=>B-y(d[1]))
    .attr("fill",c).attr("fill-opacity",0.65).attr("stroke","#000").attr("stroke-opacity",0.72).attr("stroke-width",1.3);
  bars(histBinStartU,histCountU,"#1f77b4");
  bars(histBinStartV,histCountV,"#ff7f0e");
  axes(g,x,y,histXTicks,histYTicks,T,B,L,R,minus,fmtNum,false);
  const lg=g.append("g");
  legendBox(lg,1442.3,815.3,117.7,34);
  lg.append("rect").attr("x",1446.3).attr("y",820.3).attr("width",22.4).attr("height",7.8).attr("fill","#1f77b4").attr("fill-opacity",0.65).attr("stroke","#000").attr("stroke-opacity",0.72).attr("stroke-width",1.3);
  legText(lg,"U (zonal)",1477.3,824.3);
  lg.append("rect").attr("x",1446.3).attr("y",835.5).attr("width",22.4).attr("height",7.8).attr("fill","#ff7f0e").attr("fill-opacity",0.65).attr("stroke","#000").attr("stroke-opacity",0.72).attr("stroke-width",1.3);
  legText(lg,"V (meridional)",1477.3,839.3);
  title("U and V Wind Components",L,R,T);
  xlabel(["Wind speed (m s","−1",")"],(L+R)/2,1155.5);
  ylabel("Frequency",821.5,(T+B)/2);
}
</script></body></html>
